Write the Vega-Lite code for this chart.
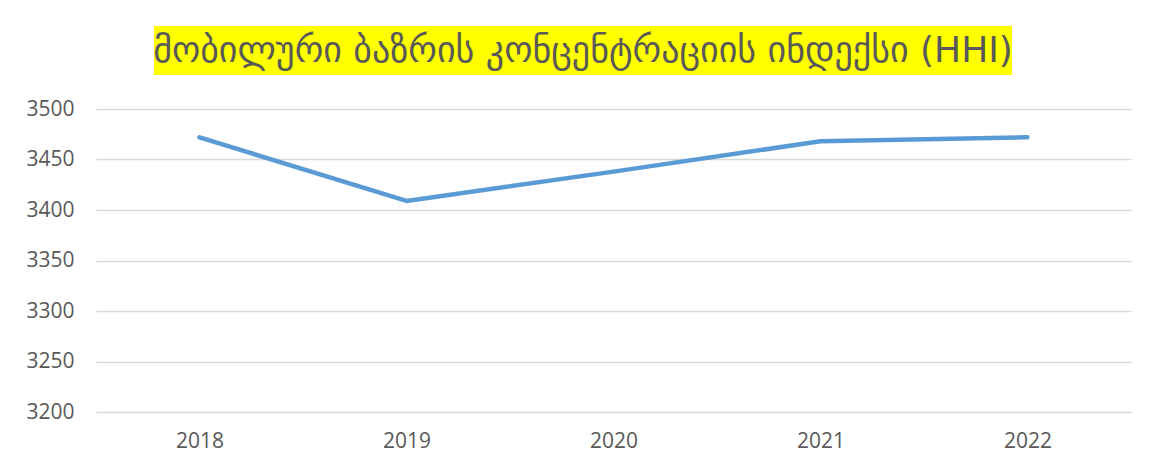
{
  "$schema": "https://vega.github.io/schema/vega-lite/v6.json",
  "padding": {"left": 25, "top": 26, "right": 5, "bottom": 5},
  "background": "white",
  "config": {"view": {"stroke": null}, "font": "Open Sans"},
  "spacing": 23,
  "vconcat": [
    {
      "spacing": 0,
      "hconcat": [
        {
          "width": 57,
          "height": 49,
          "data": {"values": []},
          "mark": {"type": "text"},
          "encoding": {}
        },
        {
          "width": 858,
          "height": 49,
          "view": {"fill": "#FFFF00", "stroke": null},
          "data": {"values": [{"title": "მობილური ბაზრის კონცენტრაციის ინდექსი (HHI)"}]},
          "mark": {"type": "text", "font": "DejaVu Sans", "fontSize": 36, "color": "#595959"},
          "encoding": {"text": {"field": "title", "type": "nominal"}}
        }
      ]
    },
    {
      "width": 1035,
      "height": 303,
      "data": {"values": [
        {"year": "2018", "hhi": 3472},
        {"year": "2019", "hhi": 3409},
        {"year": "2020", "hhi": 3438},
        {"year": "2021", "hhi": 3468},
        {"year": "2022", "hhi": 3472}
      ]},
      "mark": {"type": "line", "color": "#5B9BD5", "strokeWidth": 4.5, "strokeCap": "round", "strokeJoin": "round"},
      "encoding": {
        "x": {
          "field": "year", "type": "ordinal",
          "scale": {"type": "point", "padding": 0.5},
          "axis": {"title": null, "labelAngle": 0, "domain": false, "ticks": false, "grid": false, "labelFontSize": 21, "labelColor": "#595959", "labelPadding": 18}
        },
        "y": {
          "field": "hhi", "type": "quantitative",
          "scale": {"domain": [3200, 3500], "zero": false, "nice": false},
          "axis": {"title": null, "format": "d", "values": [3200, 3250, 3300, 3350, 3400, 3450, 3500], "domain": false, "ticks": false, "grid": true, "gridColor": "#D9D9D9", "gridWidth": 1.5, "labelFontSize": 21, "labelColor": "#595959", "labelPadding": 22}
        }
      }
    }
  ]
}
